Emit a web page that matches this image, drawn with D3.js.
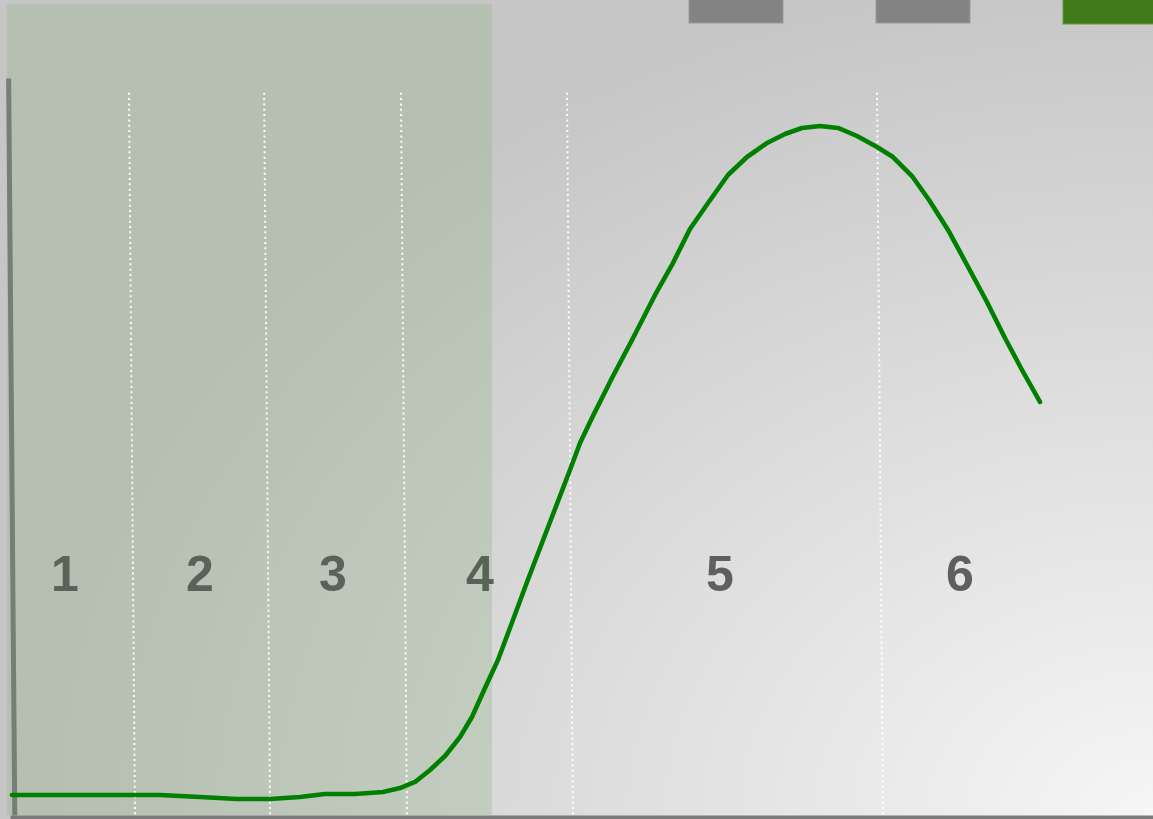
<!DOCTYPE html>
<html>
<head>
<meta charset="utf-8">
<script src="https://cdn.jsdelivr.net/npm/d3@7"></script>
<style>
  html, body { margin: 0; padding: 0; background: #c8c8c8; }
  svg { display: block; }
</style>
</head>
<body>
<div id="chart"></div>
<script>
// ---------------- DATA ----------------
const curveX = [0.35, 4.54, 8.91, 13.28, 16.77, 20.0, 22.88, 25.5, 27.69, 30.31, 32.75, 34.24, 35.55, 36.86, 38.17, 39.48, 40.52, 41.66, 42.79, 43.84, 45.33, 47.07, 49.08, 49.96, 51.0, 52.75, 54.5, 56.51, 57.99, 59.56, 61.14, 62.88, 64.54, 66.29, 67.86, 69.34, 70.92, 72.49, 74.15, 75.9, 77.29, 78.95, 80.44, 82.1, 83.76, 85.5, 87.07, 88.56, 90.13];
const curveY = [2.71, 2.71, 2.71, 2.71, 2.44, 2.17, 2.17, 2.44, 2.85, 2.85, 3.12, 3.66, 4.48, 6.11, 8.01, 10.58, 13.3, 17.23, 21.03, 25.37, 31.61, 38.67, 46.81, 50.47, 53.87, 59.29, 64.45, 70.56, 74.63, 79.51, 83.04, 86.84, 89.28, 91.18, 92.4, 93.22, 93.49, 93.22, 92.13, 90.64, 89.28, 86.7, 83.45, 79.38, 74.63, 69.61, 64.72, 60.38, 56.04];
const phaseBoundaries = [10.5, 22.3, 34.25, 48.75, 75.83];
const phaseLabels = ["1", "2", "3", "4", "5", "6"];
const phaseLabelX = [4.98, 16.77, 28.38, 41.22, 62.18, 83.14];
const phaseLabelY = 30.4;
const gridTop = 98;
const shadedRange = [-0.1, 42.27];
const shadedTop = 110;
const legendColors = ["#838383", "#838383", "#417a1b"];

// ---------------- LAYOUT ----------------
const W = 1153, H = 819;
const svg = d3.select("#chart").append("svg").attr("width", W).attr("height", H);

const x = d3.scaleLinear().domain([0, 100]).range([8, 1153]);
const y = d3.scaleLinear().domain([0, 100]).range([815, 78]);
const skewDeg = Math.atan(6 / 722) * 180 / Math.PI;

// background radial gradient
const defs = svg.append("defs");
const rg = defs.append("radialGradient")
  .attr("id", "bg")
  .attr("gradientUnits", "userSpaceOnUse")
  .attr("cx", 1153).attr("cy", 819).attr("r", 850)
  .attr("gradientTransform", "translate(1153,819) scale(1.294,1) translate(-1153,-819)");
rg.append("stop").attr("offset", "0%").attr("stop-color", "#f6f6f6");
rg.append("stop").attr("offset", "100%").attr("stop-color", "#c6c6c6");
svg.append("rect").attr("width", W).attr("height", H).attr("fill", "url(#bg)");

// legend swatches (cut off at top)
svg.append("g").selectAll("rect").data(legendColors).join("rect")
  .attr("x", (d, i) => 689 + i * 187)
  .attr("y", -2)
  .attr("width", (d, i) => i === 2 ? 120 : 94)
  .attr("height", (d, i) => i === 2 ? 26 : 25)
  .attr("fill", d => d)
  .attr("stroke", (d, i) => i === 2 ? "#5f9a3c" : "#999")
  .attr("stroke-width", 1);

// shaded region
svg.append("rect")
  .attr("x", x(shadedRange[0]))
  .attr("y", y(shadedTop))
  .attr("width", x(shadedRange[1]) - x(shadedRange[0]))
  .attr("height", y(0) - y(shadedTop))
  .attr("fill", "rgb(141,178,135)")
  .attr("fill-opacity", 0.3);

// dotted phase boundaries (slightly skewed)
const grid = svg.append("g").attr("transform", `skewX(${skewDeg})`);
grid.selectAll("line").data(phaseBoundaries).join("line")
  .attr("x1", d => x(d)).attr("x2", d => x(d))
  .attr("y1", y(gridTop)).attr("y2", y(0))
  .attr("stroke", "#ffffff")
  .attr("stroke-opacity", 0.95)
  .attr("stroke-width", 2)
  .attr("stroke-dasharray", "2,3.33");

// phase labels
svg.append("g").selectAll("text").data(phaseLabels).join("text")
  .attr("x", (d, i) => x(phaseLabelX[i]))
  .attr("y", y(phaseLabelY))
  .attr("text-anchor", "middle")
  .attr("font-family", "'Liberation Sans', Arial, sans-serif")
  .attr("font-weight", "bold")
  .attr("font-size", 50)
  .attr("fill", (d, i) => phaseLabelX[i] < shadedRange[1] ? "#59635a" : "#5f5f5f")
  .text(d => d);

// axes
const leftAxis = svg.append("g")
  .attr("transform", `skewX(${skewDeg}) translate(${x(0) - 0.5},0)`)
  .call(d3.axisLeft(y).ticks(0).tickSizeOuter(0));
leftAxis.select(".domain").attr("stroke", "#767e75").attr("stroke-width", 5);

const xb = d3.scaleLinear().domain([0, 100]).range([10, 1160]);
const bottomAxis = svg.append("g")
  .attr("transform", `translate(0,${y(0) + 2})`)
  .call(d3.axisBottom(xb).ticks(0).tickSizeOuter(0));
bottomAxis.select(".domain").attr("stroke", "#7b7b7b").attr("stroke-width", 4);

// curve
const pts = curveX.map((v, i) => [v, curveY[i]]);
const line = d3.line().x(d => x(d[0])).y(d => y(d[1])).curve(d3.curveLinear);
svg.append("path")
  .datum(pts)
  .attr("d", line)
  .attr("fill", "none")
  .attr("stroke", "#008000")
  .attr("stroke-width", 4.6)
  .attr("stroke-linejoin", "round")
  .attr("stroke-linecap", "round");
</script>
</body>
</html>
